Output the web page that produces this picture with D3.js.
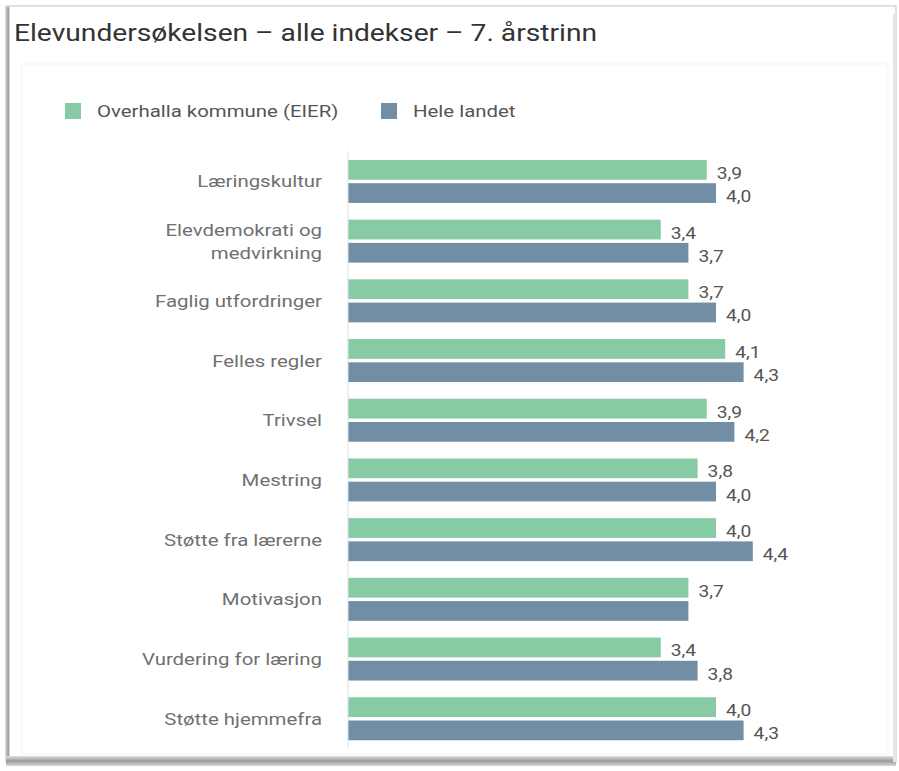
<!DOCTYPE html>
<html>
<head>
<meta charset="utf-8">
<script src="https://cdn.jsdelivr.net/npm/d3@7"></script>
<style>
  html, body { margin: 0; padding: 0; background: #ffffff; }
  svg { display: block; font-family: Roboto, "Noto Sans", sans-serif; }
</style>
</head>
<body>
<svg id="chart" width="899" height="771"></svg>
<script>
const title = "Elevundersøkelsen – alle indekser – 7. årstrinn";
const categories = [
  ["Læringskultur"],
  ["Elevdemokrati og", "medvirkning"],
  ["Faglig utfordringer"],
  ["Felles regler"],
  ["Trivsel"],
  ["Mestring"],
  ["Støtte fra lærerne"],
  ["Motivasjon"],
  ["Vurdering for læring"],
  ["Støtte hjemmefra"]
];
const seriesNames = ["Overhalla kommune (EIER)", "Hele landet"];
const overhalla = [3.9, 3.4, 3.7, 4.1, 3.9, 3.8, 4.0, 3.7, 3.4, 4.0];
const heleLandet = [4.0, 3.7, 4.0, 4.3, 4.2, 4.0, 4.4, 3.7, 3.8, 4.3];
// label shown for each value (null = no label visible in reference)
const overhallaLabels = ["3,9", "3,4", "3,7", "4,1", "3,9", "3,8", "4,0", "3,7", "3,4", "4,0"];
const heleLandetLabels = ["4,0", "3,7", "4,0", "4,3", "4,2", "4,0", "4,4", null, "3,8", "4,3"];
const colors = ["#86cba3", "#718ea4"];

const SX = 1.2; // horizontal stretch of the text in the reference image

const svg = d3.select("#chart");

// Outer frame with shadow
const defs = svg.append("defs");
const gb = defs.append("linearGradient").attr("id", "gBottom").attr("x1", 0).attr("y1", 0).attr("x2", 0).attr("y2", 1);
gb.append("stop").attr("offset", "0%").attr("stop-color", "#e0e0e0");
gb.append("stop").attr("offset", "50%").attr("stop-color", "#9a9a9a");
gb.append("stop").attr("offset", "100%").attr("stop-color", "#d8d8d8");
const gl = defs.append("linearGradient").attr("id", "gLeft").attr("x1", 0).attr("y1", 0).attr("x2", 1).attr("y2", 0);
gl.append("stop").attr("offset", "0%").attr("stop-color", "#c8c8c8");
gl.append("stop").attr("offset", "60%").attr("stop-color", "#9c9c9c");
gl.append("stop").attr("offset", "100%").attr("stop-color", "#eeeeee");

svg.append("rect").attr("x", 6).attr("y", 6).attr("width", 890).attr("height", 756)
  .attr("fill", "#ffffff").attr("stroke", "#d4d4d4").attr("stroke-width", 1.5);
svg.append("rect").attr("x", 6).attr("y", 7).attr("width", 4).attr("height", 754).attr("fill", "url(#gLeft)");
svg.append("rect").attr("x", 6).attr("y", 756).attr("width", 890).attr("height", 10).attr("fill", "url(#gBottom)");
svg.append("rect").attr("x", 893).attr("y", 14).attr("width", 3).attr("height", 748).attr("fill", "#e6e6e6");
// faint inner panel
svg.append("rect").attr("x", 22).attr("y", 64).attr("width", 866).attr("height", 690)
  .attr("fill", "none").attr("stroke", "#f3f3f3").attr("stroke-width", 1);

function stretchedText(parent, px, py) {
  return parent.append("text").attr("transform", `translate(${px},${py}) scale(${SX},1)`);
}

// Title
stretchedText(svg, 14, 41)
  .attr("font-size", 23.5).attr("fill", "#333333").attr("font-weight", 400)
  .text(title);

// Legend
const legend = svg.append("g");
const legendX = [65, 381];
seriesNames.forEach((name, i) => {
  legend.append("rect").attr("x", legendX[i]).attr("y", 103).attr("width", 16).attr("height", 16).attr("fill", colors[i]);
  stretchedText(legend, legendX[i] + 32, 117)
    .attr("font-size", 17).attr("fill", "#555555").text(name);
});

// Scales
const x = d3.scaleLinear().domain([0, 5]).range([348, 808]);
const y0 = d3.scaleBand().domain(d3.range(categories.length)).range([151.6, 748.6])
  .paddingInner(0.28).paddingOuter(0.14);
const y1 = d3.scaleBand().domain([0, 1]).range([0, y0.bandwidth()]).paddingInner(0.15);

const data = categories.map((c, i) => ({
  i,
  vals: [
    { s: 0, v: overhalla[i], label: overhallaLabels[i] },
    { s: 1, v: heleLandet[i], label: heleLandetLabels[i] }
  ]
}));

const groups = svg.append("g").selectAll("g").data(data).join("g")
  .attr("transform", d => `translate(0,${y0(d.i)})`);

groups.selectAll("rect").data(d => d.vals).join("rect")
  .attr("x", x(0))
  .attr("y", d => y1(d.s))
  .attr("width", d => x(d.v) - x(0))
  .attr("height", y1.bandwidth())
  .attr("fill", d => colors[d.s]);

groups.selectAll("text.val").data(d => d.vals.filter(v => v.label)).join("text")
  .attr("class", "val")
  .attr("transform", d => `translate(${x(d.v) + 10},${y1(d.s) + y1.bandwidth() / 2 + 9}) scale(${SX},1)`)
  .attr("font-size", 16).attr("fill", "#555555")
  .text(d => d.label);

// Axis line
svg.append("line").attr("x1", x(0)).attr("x2", x(0)).attr("y1", 151).attr("y2", 748)
  .attr("stroke", "#d9e2ea").attr("stroke-width", 1);

// Category labels
const catG = svg.append("g");
categories.forEach((lines, i) => {
  const cy = y0(i) + y0.bandwidth() / 2;
  const lh = 23;
  const t = catG.append("text")
    .attr("transform", `translate(322,0) scale(${SX},1)`)
    .attr("text-anchor", "end").attr("font-size", 17).attr("fill", "#707070");
  lines.forEach((ln, k) => {
    t.append("tspan").attr("x", 0)
      .attr("y", cy + (k - (lines.length - 1) / 2) * lh + 6)
      .text(ln);
  });
});
</script>
</body>
</html>
